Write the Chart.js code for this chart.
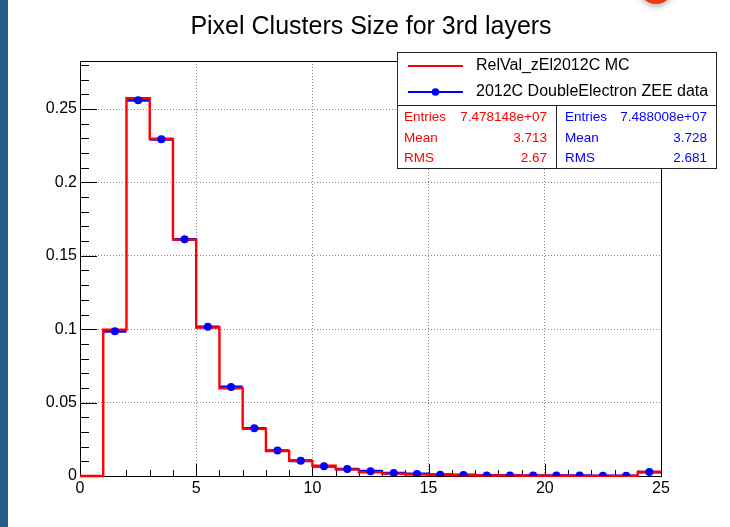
<!DOCTYPE html>
<html>
<head>
<meta charset="utf-8">
<title>Pixel Clusters Size for 3rd layers</title>
<script src="https://cdn.jsdelivr.net/npm/chart.js@4"></script>
<style>
  html, body { margin: 0; padding: 0; background: #fff; }
  #wrap { position: relative; width: 730px; height: 527px; overflow: hidden; }
  #stripe { position: absolute; left: 0; top: 0; width: 8px; height: 527px; background: #275a8c; }
  #badge { position: absolute; left: 639px; top: -30px; width: 34px; height: 34px; border-radius: 50%; background: #f03a17; box-shadow: 0 2px 6px rgba(0,0,0,0.35); }
  canvas { position: absolute; left: 0; top: 0; }
</style>
</head>
<body>
<div id="wrap">
  <canvas id="histo" width="730" height="527"></canvas>
  <div id="stripe"></div>
  <div id="badge"></div>
</div>
<script>
var FONT = '"Liberation Sans", Arial, Helvetica, sans-serif'

// lower edge of each cluster-size bin (bin width 1)
var binEdges = [0, 1, 2, 3, 4, 5, 6, 7, 8, 9, 10, 11, 12, 13, 14, 15, 16, 17, 18, 19, 20, 21, 22, 23, 24]

// normalised MC histogram
var mcValues = [0, 0.0997, 0.2573, 0.2296, 0.1610, 0.1012, 0.0598, 0.0323, 0.0170, 0.0103, 0.0070, 0.0045,
  0.0026, 0.0016, 0.0011, 0.0007, 0.0005, 0.0003, 0.0003, 0.0002, 0.0002, 0.0001, 0.0001, 0.0001, 0.0027]

// normalised data (empty first bin is not drawn)
var dataValues = [null, 0.0986, 0.2559, 0.2294, 0.1612, 0.1016, 0.0607, 0.0325, 0.0173, 0.0104, 0.0066, 0.0047,
  0.0033, 0.0020, 0.0014, 0.0009, 0.0007, 0.0004, 0.0004, 0.0003, 0.0003, 0.0003, 0.0001, 0.0001, 0.0027]

var xTicks = [0, 5, 10, 15, 20, 25]
var xTickLabels = ['0', '5', '10', '15', '20', '25']
var yTicks = [0, 0.05, 0.1, 0.15, 0.2, 0.25]
var yTickLabels = ['0', '0.05', '0.1', '0.15', '0.2', '0.25']
var yMax = 0.2827

var titleText = 'Pixel Clusters Size for 3rd layers'
var mcLabel = 'RelVal_zEl2012C MC'
var dataLabel = '2012C DoubleElectron ZEE data'
var mcStats = [['Entries', '7.478148e+07'], ['Mean', '3.713'], ['RMS', '2.67']]
var dataStats = [['Entries', '7.488008e+07'], ['Mean', '3.728'], ['RMS', '2.681']]

var RED = '#ff0000'
var BLUE = '#0000ff'

// MC outline: a point at every lower edge, one more to close the last bin
var mcSteps = binEdges.map(function (e, i) {
  return { x: e, y: mcValues[i] }
})
mcSteps.push({ x: binEdges[binEdges.length - 1] + 1, y: mcValues[mcValues.length - 1] })

// data: bin-wide horizontal bar + marker at the bin centre
var dataBars = []
var dataPoints = []
binEdges.forEach(function (e, i) {
  var v = dataValues[i]
  if (v === null) return
  dataBars.push({ x: e, y: v }, { x: e + 1, y: v }, { x: e + 1, y: null })
  dataPoints.push({ x: e + 0.5, y: v })
})

function line(ctx, x1, y1, x2, y2) {
  ctx.beginPath()
  ctx.moveTo(x1, y1)
  ctx.lineTo(x2, y2)
  ctx.stroke()
}

// ROOT style frame with inward ticks, title and legend / stats box
var rootFrame = {
  id: 'rootFrame',
  beforeDatasetsDraw: function (chart) {
    var ctx = chart.ctx
    var a = chart.chartArea
    var xs = chart.scales.x
    var ys = chart.scales.y
    ctx.save()
    ctx.strokeStyle = '#000'
    ctx.lineWidth = 1
    for (var u = 0; u <= 25; u++) {
      var px = Math.round(xs.getPixelForValue(u)) + 0.5
      line(ctx, px, a.bottom, px, a.bottom - (u % 5 === 0 ? 12 : 6))
    }
    for (var k = 0; k <= 28; k++) {
      var py = Math.round(ys.getPixelForValue(k / 100)) + 0.5
      line(ctx, a.left, py, a.left + (k % 5 === 0 ? 17 : 9), py)
    }
    ctx.strokeRect(a.left + 0.5, a.top + 0.5, a.right - a.left, a.bottom - a.top)
    ctx.restore()
  },
  afterDraw: function (chart) {
    var ctx = chart.ctx
    ctx.save()

    ctx.fillStyle = '#000'
    ctx.font = '25px ' + FONT
    ctx.textAlign = 'center'
    ctx.textBaseline = 'alphabetic'
    ctx.fillText(titleText, 371, 34)

    // legend box
    ctx.fillStyle = '#fff'
    ctx.fillRect(397, 52, 319, 116)
    ctx.strokeStyle = '#222'
    ctx.lineWidth = 1
    ctx.strokeRect(397.5, 52.5, 319, 116)
    line(ctx, 397, 105.5, 716, 105.5)
    line(ctx, 556.5, 105, 556.5, 168)

    ctx.lineWidth = 2
    ctx.strokeStyle = RED
    line(ctx, 408, 66, 463, 66)
    ctx.strokeStyle = BLUE
    line(ctx, 408, 92, 463, 92)
    ctx.fillStyle = BLUE
    ctx.beginPath()
    ctx.arc(435.5, 92, 3.8, 0, Math.PI * 2)
    ctx.fill()

    ctx.fillStyle = '#000'
    ctx.font = '16px ' + FONT
    ctx.textAlign = 'left'
    ctx.textBaseline = 'middle'
    ctx.fillText(mcLabel, 476, 66)
    ctx.fillText(dataLabel, 476, 92)

    // stats columns
    ctx.font = '13.5px ' + FONT
    var rows = [117, 138, 158.5]
    mcStats.forEach(function (s, i) {
      ctx.fillStyle = RED
      ctx.textAlign = 'left'
      ctx.fillText(s[0], 404, rows[i])
      ctx.textAlign = 'right'
      ctx.fillText(s[1], 547, rows[i])
    })
    dataStats.forEach(function (s, i) {
      ctx.fillStyle = BLUE
      ctx.textAlign = 'left'
      ctx.fillText(s[0], 565, rows[i])
      ctx.textAlign = 'right'
      ctx.fillText(s[1], 707, rows[i])
    })
    ctx.restore()
  }
}

var ctx = document.getElementById('histo').getContext('2d')
var chart = new Chart(ctx, {
  type: 'line',
  data: {
    datasets: [{
      label: dataLabel,
      data: dataPoints,
      showLine: false,
      pointRadius: 4,
      pointBackgroundColor: BLUE,
      pointBorderColor: BLUE,
      pointBorderWidth: 0,
      order: 0
    }, {
      label: mcLabel,
      data: mcSteps,
      stepped: 'before',
      borderColor: RED,
      borderWidth: 2.4,
      pointRadius: 0,
      fill: false,
      clip: 2,
      order: 1
    }, {
      label: dataLabel + ' bars',
      data: dataBars,
      borderColor: BLUE,
      borderWidth: 2.8,
      pointRadius: 0,
      spanGaps: false,
      fill: false,
      order: 2
    }]
  },
  options: {
    responsive: false,
    animation: false,
    devicePixelRatio: 1,
    layout: { padding: { top: 61, right: 69, bottom: 0, left: 0 } },
    plugins: {
      legend: { display: false },
      tooltip: { enabled: false },
      title: { display: false }
    },
    scales: {
      x: {
        type: 'linear',
        min: 0,
        max: 25,
        afterBuildTicks: function (s) {
          s.ticks = xTicks.map(function (v) { return { value: v } })
        },
        afterFit: function (s) { s.height = 51 },
        ticks: {
          callback: function (v, i) { return xTickLabels[i] },
          font: { size: 16, family: FONT },
          color: '#000',
          padding: 3,
          maxRotation: 0,
          autoSkip: false
        },
        grid: { color: '#888', lineWidth: 1, drawTicks: false },
        border: { display: false, dash: [1, 2] }
      },
      y: {
        type: 'linear',
        min: 0,
        max: yMax,
        afterBuildTicks: function (s) {
          s.ticks = yTicks.map(function (v) { return { value: v } })
        },
        afterFit: function (s) { s.width = 80 },
        ticks: {
          callback: function (v, i) { return yTickLabels[i] },
          font: { size: 16, family: FONT },
          color: '#000',
          padding: 3,
          autoSkip: false
        },
        grid: { color: '#888', lineWidth: 1, drawTicks: false },
        border: { display: false, dash: [1, 2] }
      }
    }
  },
  plugins: [rootFrame]
})
</script>
</body>
</html>
